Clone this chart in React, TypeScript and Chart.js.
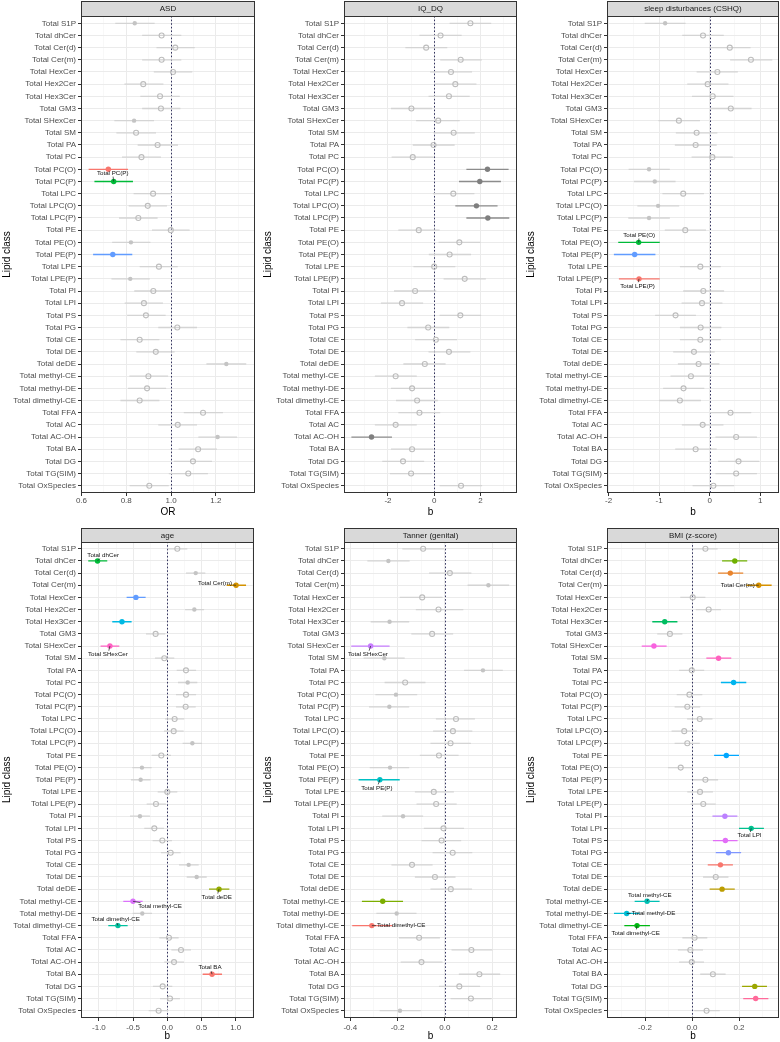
import React, { useEffect, useRef } from "react";
import { Chart, registerables } from "chart.js";

Chart.register(...registerables);

const FONT = "'Liberation Sans', Arial, Helvetica, sans-serif";

// ---------------- data ----------------
const lipidClasses: string[] = [
  "Total S1P", "Total dhCer", "Total Cer(d)", "Total Cer(m)", "Total HexCer", "Total Hex2Cer",
  "Total Hex3Cer", "Total GM3", "Total SHexCer", "Total SM", "Total PA", "Total PC", "Total PC(O)",
  "Total PC(P)", "Total LPC", "Total LPC(O)", "Total LPC(P)", "Total PE", "Total PE(O)", "Total PE(P)",
  "Total LPE", "Total LPE(P)", "Total PI", "Total LPI", "Total PS", "Total PG", "Total CE", "Total DE",
  "Total deDE", "Total methyl-CE", "Total methyl-DE", "Total dimethyl-CE", "Total FFA", "Total AC",
  "Total AC-OH", "Total BA", "Total DG", "Total TG(SIM)", "Total OxSpecies",
];

// ASD (OR)
const asdEst = [0.838, 0.958, 1.019, 0.958, 1.009, 0.876, 0.951, 0.955, 0.835, 0.844, 0.940, 0.868, 0.720, 0.744, 0.920, 0.896, 0.854, 0.999, 0.821, 0.740, 0.946, 0.818, 0.921, 0.879, 0.888, 1.028, 0.860, 0.932, 1.247, 0.899, 0.893, 0.860, 1.143, 1.030, 1.208, 1.121, 1.098, 1.077, 0.903];
const asdLo = [0.751, 0.871, 0.935, 0.871, 0.923, 0.792, 0.863, 0.871, 0.747, 0.756, 0.851, 0.781, 0.632, 0.658, 0.833, 0.811, 0.768, 0.915, 0.737, 0.652, 0.860, 0.734, 0.836, 0.793, 0.804, 0.943, 0.774, 0.845, 1.158, 0.814, 0.808, 0.774, 1.057, 0.943, 1.122, 1.034, 1.012, 0.990, 0.815];
const asdHi = [0.927, 1.046, 1.106, 1.046, 1.095, 0.966, 1.039, 1.042, 0.924, 0.933, 1.031, 0.955, 0.808, 0.830, 1.004, 0.982, 0.940, 1.083, 0.908, 0.827, 1.030, 0.905, 1.007, 0.964, 0.976, 1.116, 0.948, 1.016, 1.336, 0.987, 0.978, 0.948, 1.232, 1.116, 1.295, 1.205, 1.183, 1.165, 0.990];
const asdType = ["f", "h", "h", "h", "h", "h", "h", "h", "f", "h", "h", "h", "c", "c", "h", "h", "h", "h", "f", "c", "h", "f", "h", "h", "h", "h", "h", "h", "f", "h", "h", "h", "h", "h", "f", "h", "h", "h", "h"];
const asdSigOrder = ["Total PC(O)", "Total PC(P)", "Total PE(P)"];
const asdLabelled = ["Total PC(P)"];
const asdMajor = [0.6, 0.8, 1.0, 1.2];
const asdMajorText = ["0.6", "0.8", "1.0", "1.2"];
const asdMinor = [0.7, 0.9, 1.1, 1.3];

// IQ_DQ (b)
const iqEst = [1.565, 0.275, -0.348, 1.145, 0.725, 0.913, 0.638, -0.986, 0.174, 0.841, -0.029, -0.928, 2.304, 1.971, 0.826, 1.826, 2.319, -0.667, 1.087, 0.667, 0.0, 1.319, -0.826, -1.391, 1.130, -0.261, 0.072, 0.638, -0.406, -1.667, -0.957, -0.739, -0.638, -1.667, -2.710, -0.957, -1.348, -1.0, 1.159];
const iqLo = [0.667, -0.638, -1.246, 0.261, -0.174, 0.029, -0.246, -1.870, -0.783, -0.029, -0.928, -1.841, 1.391, 1.072, -0.058, 0.913, 1.391, -1.551, 0.188, -0.232, -0.899, 0.406, -1.739, -2.304, 0.232, -1.159, -0.826, -0.246, -1.333, -2.565, -1.870, -1.652, -1.551, -2.565, -3.580, -1.870, -2.246, -1.913, 0.232];
const iqHi = [2.464, 1.188, 0.565, 2.058, 1.638, 1.826, 1.536, -0.087, 1.101, 1.754, 0.884, -0.029, 3.217, 2.884, 1.739, 2.739, 3.246, 0.232, 2.0, 1.594, 0.913, 2.232, 0.087, -0.478, 2.029, 0.652, 0.986, 1.565, 0.493, -0.754, -0.058, 0.159, 0.261, -0.754, -1.826, -0.043, -0.435, -0.101, 2.072];
const iqType = ["h", "h", "h", "h", "h", "h", "h", "h", "h", "h", "h", "h", "d", "d", "h", "d", "d", "h", "h", "h", "h", "h", "h", "h", "h", "h", "h", "h", "h", "h", "h", "h", "h", "h", "d", "h", "h", "h", "h"];
const iqSigOrder: string[] = [];
const iqLabelled: string[] = [];
const iqMajor = [-2, 0, 2];
const iqMajorText = ["-2", "0", "2"];
const iqMinor = [-3, -1, 1, 3];

// sleep disturbances (CSHQ) (b)
const sleepEst = [-0.881, -0.132, 0.397, 0.815, 0.152, -0.040, 0.060, 0.417, -0.609, -0.258, -0.278, 0.053, -1.199, -1.086, -0.523, -1.020, -1.199, -0.483, -1.404, -1.483, -0.185, -1.397, -0.126, -0.152, -0.675, -0.179, -0.185, -0.311, -0.219, -0.371, -0.517, -0.589, 0.411, -0.139, 0.523, -0.278, 0.570, 0.523, 0.073];
const sleepLo = [-1.285, -0.543, -0.013, 0.404, -0.258, -0.444, -0.351, 0.020, -1.013, -0.669, -0.689, -0.358, -1.603, -1.497, -0.934, -1.430, -1.609, -0.887, -1.808, -1.894, -0.589, -1.795, -0.523, -0.556, -1.079, -0.589, -0.589, -0.722, -0.629, -0.775, -0.921, -1.0, 0.007, -0.550, 0.113, -0.682, 0.166, 0.113, -0.338];
const sleepHi = [-0.477, 0.278, 0.808, 1.238, 0.556, 0.371, 0.470, 0.828, -0.192, 0.152, 0.139, 0.457, -0.788, -0.675, -0.113, -0.603, -0.788, -0.073, -0.987, -1.073, 0.219, -0.987, 0.285, 0.252, -0.272, 0.232, 0.219, 0.099, 0.192, 0.033, -0.106, -0.172, 0.821, 0.272, 0.934, 0.139, 0.980, 0.934, 0.483];
const sleepType = ["f", "h", "h", "h", "h", "h", "h", "h", "h", "h", "h", "h", "f", "f", "h", "f", "f", "h", "c", "c", "h", "c", "h", "h", "h", "h", "h", "h", "h", "h", "h", "h", "h", "h", "h", "h", "h", "h", "h"];
const sleepSigOrder = ["Total LPE(P)", "Total PE(O)", "Total PE(P)"];
const sleepLabelled = ["Total PE(O)", "Total LPE(P)"];
const sleepMajor = [-2, -1, 0, 1];
const sleepMajorText = ["-2", "-1", "0", "1"];
const sleepMinor = [-1.5, -0.5, 0.5];

// age (b)
const ageEst = [0.146, -1.020, 0.415, 1.005, -0.459, 0.395, -0.663, -0.171, -0.839, -0.044, 0.273, 0.298, 0.273, 0.268, 0.107, 0.093, 0.366, -0.088, -0.371, -0.390, 0.0, -0.166, -0.400, -0.190, -0.073, 0.049, 0.312, 0.429, 0.756, -0.502, -0.366, -0.722, 0.024, 0.200, 0.098, 0.654, -0.068, 0.039, -0.127];
const ageLo = [0.005, -1.156, 0.273, 0.868, -0.595, 0.259, -0.805, -0.312, -0.976, -0.180, 0.137, 0.156, 0.127, 0.127, -0.034, -0.049, 0.224, -0.229, -0.512, -0.532, -0.141, -0.302, -0.546, -0.337, -0.215, -0.093, 0.171, 0.283, 0.610, -0.644, -0.507, -0.863, -0.117, 0.059, -0.044, 0.517, -0.210, -0.107, -0.273];
const ageHi = [0.293, -0.878, 0.556, 1.151, -0.317, 0.537, -0.522, -0.029, -0.702, 0.102, 0.420, 0.439, 0.420, 0.415, 0.249, 0.239, 0.507, 0.054, -0.229, -0.244, 0.146, -0.020, -0.254, -0.049, 0.068, 0.195, 0.459, 0.576, 0.907, -0.361, -0.224, -0.580, 0.166, 0.346, 0.244, 0.800, 0.073, 0.185, 0.015];
const ageType = ["h", "c", "f", "c", "c", "f", "c", "h", "c", "h", "h", "f", "h", "h", "h", "h", "f", "h", "f", "f", "h", "h", "f", "h", "h", "h", "f", "f", "c", "c", "f", "c", "h", "h", "h", "c", "h", "h", "h"];
const ageSigOrder = ["Total BA", "Total Cer(m)", "Total deDE", "Total dhCer", "Total dimethyl-CE", "Total Hex3Cer", "Total HexCer", "Total methyl-CE", "Total SHexCer"];
const ageLabelled = ["Total dhCer", "Total Cer(m)", "Total SHexCer", "Total deDE", "Total methyl-CE", "Total dimethyl-CE", "Total BA"];
const ageMajor = [-1.0, -0.5, 0.0, 0.5, 1.0];
const ageMajorText = ["-1.0", "-0.5", "0.0", "0.5", "1.0"];
const ageMinor = [-1.25, -0.75, -0.25, 0.25, 0.75, 1.25];

// Tanner (genital) (b)
const tannerEst = [-0.092, -0.239, 0.021, 0.184, -0.096, -0.027, -0.234, -0.054, -0.314, -0.256, 0.161, -0.168, -0.207, -0.235, 0.047, 0.034, 0.024, -0.025, -0.232, -0.275, -0.047, -0.037, -0.177, -0.006, -0.014, 0.033, -0.139, -0.042, 0.025, -0.263, -0.204, -0.309, -0.109, 0.112, -0.099, 0.146, 0.061, 0.110, -0.190];
const tannerLo = [-0.180, -0.328, -0.067, 0.096, -0.191, -0.123, -0.314, -0.142, -0.396, -0.344, 0.081, -0.255, -0.294, -0.321, -0.038, -0.050, -0.061, -0.106, -0.318, -0.365, -0.127, -0.120, -0.265, -0.089, -0.099, -0.052, -0.226, -0.127, -0.061, -0.351, -0.290, -0.392, -0.194, 0.028, -0.187, 0.059, -0.025, 0.024, -0.276];
const tannerHi = [-0.004, -0.149, 0.112, 0.272, -0.010, 0.078, -0.151, 0.035, -0.234, -0.170, 0.245, -0.082, -0.117, -0.151, 0.127, 0.116, 0.110, 0.058, -0.151, -0.191, 0.038, 0.050, -0.092, 0.081, 0.069, 0.116, -0.052, 0.045, 0.115, -0.177, -0.120, -0.222, -0.021, 0.201, -0.010, 0.234, 0.149, 0.198, -0.102];
const tannerType = ["h", "f", "h", "f", "h", "h", "f", "h", "c", "f", "f", "h", "f", "f", "h", "h", "h", "h", "f", "c", "h", "h", "f", "h", "h", "h", "h", "h", "h", "c", "f", "c", "h", "h", "h", "h", "h", "h", "f"];
const tannerSigOrder = ["Total dimethyl-CE", "Total methyl-CE", "Total PE(P)", "Total SHexCer"];
const tannerLabelled = ["Total SHexCer", "Total PE(P)", "Total dimethyl-CE"];
const tannerMajor = [-0.4, -0.2, 0.0, 0.2];
const tannerMajorText = ["-0.4", "-0.2", "0.0", "0.2"];
const tannerMinor = [-0.3, -0.1, 0.1, 0.3];

// BMI (z-score) (b)
const bmiEst = [0.057, 0.182, 0.163, 0.284, 0.003, 0.071, -0.116, -0.094, -0.162, 0.113, -0.001, 0.177, -0.011, -0.020, 0.033, -0.033, -0.020, 0.146, -0.048, 0.057, 0.034, 0.048, 0.140, 0.252, 0.142, 0.155, 0.121, 0.101, 0.128, -0.191, -0.278, -0.234, 0.011, -0.007, -0.001, 0.089, 0.267, 0.271, 0.062];
const bmiLo = [0.004, 0.128, 0.111, 0.231, -0.050, 0.016, -0.169, -0.148, -0.214, 0.061, -0.055, 0.123, -0.065, -0.074, -0.021, -0.087, -0.074, 0.094, -0.102, 0.004, -0.020, -0.006, 0.087, 0.200, 0.089, 0.101, 0.067, 0.047, 0.075, -0.244, -0.332, -0.288, -0.041, -0.060, -0.055, 0.035, 0.213, 0.218, 0.009];
const bmiHi = [0.109, 0.235, 0.218, 0.339, 0.057, 0.123, -0.062, -0.041, -0.108, 0.167, 0.052, 0.231, 0.044, 0.035, 0.087, 0.021, 0.033, 0.200, 0.004, 0.111, 0.089, 0.101, 0.193, 0.306, 0.194, 0.209, 0.174, 0.155, 0.182, -0.138, -0.223, -0.179, 0.065, 0.047, 0.051, 0.143, 0.319, 0.325, 0.118];
const bmiType = ["h", "c", "c", "c", "h", "h", "c", "h", "c", "c", "h", "c", "h", "h", "h", "h", "h", "c", "h", "h", "h", "h", "c", "c", "c", "c", "c", "h", "c", "c", "c", "c", "h", "h", "h", "h", "c", "c", "h"];
const bmiSigOrder = ["Total CE", "Total Cer(d)", "Total Cer(m)", "Total deDE", "Total DG", "Total dhCer", "Total dimethyl-CE", "Total Hex3Cer", "Total LPI", "Total methyl-CE", "Total methyl-DE", "Total PC", "Total PE", "Total PG", "Total PI", "Total PS", "Total SHexCer", "Total SM", "Total TG(SIM)"];
const bmiLabelled = ["Total Cer(m)", "Total LPI", "Total methyl-CE", "Total methyl-DE", "Total dimethyl-CE"];
const bmiMajor = [-0.2, 0.0, 0.2];
const bmiMajorText = ["-0.2", "0.0", "0.2"];
const bmiMinor = [-0.3, -0.1, 0.1, 0.3];

// ---------------- styles / layout ----------------
const HOLLOW = "#BDBDBD";
const FILLED = "#C4C4C4";
const DARK = "#7F7F7F";
const BAR_GREY = "#D4D4D4";
const BAR_DARK = "#8C8C8C";

function hcl(h: number, c: number, l: number): string {
  const hr = (h * Math.PI) / 180;
  const U = c * Math.cos(hr);
  const V = c * Math.sin(hr);
  const Xn = 95.047, Yn = 100, Zn = 108.883;
  const Y = l > 8 ? Yn * Math.pow((l + 16) / 116, 3) : (Yn * l) / 903.3;
  const den = Xn + 15 * Yn + 3 * Zn;
  const un = (4 * Xn) / den;
  const vn = (9 * Yn) / den;
  const u = U / (13 * l) + un;
  const v = V / (13 * l) + vn;
  const X = (9 * Y * u) / (4 * v);
  const Z = (Y * (12 - 3 * u - 20 * v)) / (4 * v);
  const x = X / 100, y = Y / 100, z = Z / 100;
  const lin = [
    3.2404542 * x - 1.5371385 * y - 0.4985314 * z,
    -0.969266 * x + 1.8760108 * y + 0.041556 * z,
    0.0556434 * x - 0.2040259 * y + 1.0572252 * z,
  ];
  const hex = lin
    .map((c0) => {
      let g = c0 <= 0.0031308 ? 12.92 * c0 : 1.055 * Math.pow(c0, 1 / 2.4) - 0.055;
      g = Math.max(0, Math.min(1, g));
      return Math.round(g * 255).toString(16).padStart(2, "0");
    })
    .join("");
  return "#" + hex;
}

function huePalette(n: number): string[] {
  const out: string[] = [];
  for (let k = 0; k < n; k++) out.push(hcl(15 + (360 / n) * k, 100, 65));
  return out;
}

interface LabelStyle { dx: number; dy: number }

interface PanelDef {
  title: string;
  xTitle: string;
  est: number[];
  lo: number[];
  hi: number[];
  types: string[];
  sigOrder: string[];
  labelled: string[];
  labelStyle: LabelStyle[];
  ref: number;
  xMin: number;
  xMax: number;
  major: number[];
  majorText: string[];
  minor: number[];
  box: { left: number; top: number; w: number; h: number };
  area: { left: number; right: number; top: number; bottom: number };
  stripH: number;
  tickPad: number;
  titlePadB: number;
}

const TOP_BOX_H = 520;
const BOT_BOX_H = 522;

const panels: PanelDef[] = [
  {
    title: "ASD", xTitle: "OR", est: asdEst, lo: asdLo, hi: asdHi, types: asdType,
    sigOrder: asdSigOrder, labelled: asdLabelled, labelStyle: [{ dx: -1, dy: -8.5 }],
    ref: 1, xMin: 0.598, xMax: 1.375, major: asdMajor, majorText: asdMajorText, minor: asdMinor,
    box: { left: 0, top: 0, w: 260, h: TOP_BOX_H },
    area: { left: 81, right: 255, top: 16, bottom: 493 }, stripH: 15, tickPad: 0, titlePadB: 2,
  },
  {
    title: "IQ_DQ", xTitle: "b", est: iqEst, lo: iqLo, hi: iqHi, types: iqType,
    sigOrder: iqSigOrder, labelled: iqLabelled, labelStyle: [],
    ref: 0, xMin: -3.9, xMax: 3.58, major: iqMajor, majorText: iqMajorText, minor: iqMinor,
    box: { left: 261, top: 0, w: 260, h: TOP_BOX_H },
    area: { left: 344, right: 517, top: 16, bottom: 493 }, stripH: 15, tickPad: 0, titlePadB: 2,
  },
  {
    title: "sleep disturbances (CSHQ)", xTitle: "b", est: sleepEst, lo: sleepLo, hi: sleepHi, types: sleepType,
    sigOrder: sleepSigOrder, labelled: sleepLabelled, labelStyle: [{ dx: 0.5, dy: -7.5 }, { dx: -1.5, dy: 7 }],
    ref: 0, xMin: -2.03, xMax: 1.37, major: sleepMajor, majorText: sleepMajorText, minor: sleepMinor,
    box: { left: 524, top: 0, w: 256, h: TOP_BOX_H },
    area: { left: 607, right: 779, top: 16, bottom: 493 }, stripH: 15, tickPad: 0, titlePadB: 2,
  },
  {
    title: "age", xTitle: "b", est: ageEst, lo: ageLo, hi: ageHi, types: ageType,
    sigOrder: ageSigOrder, labelled: ageLabelled,
    labelStyle: [
      { dx: 5.6, dy: -6 }, { dx: -21, dy: -1.5 }, { dx: -2, dy: 8.3 }, { dx: -2.3, dy: 8 },
      { dx: 27, dy: 5 }, { dx: -2.3, dy: -6.2 }, { dx: -2, dy: -6.6 },
    ],
    ref: 0, xMin: -1.262, xMax: 1.26, major: ageMajor, majorText: ageMajorText, minor: ageMinor,
    box: { left: 0, top: 520, w: 260, h: BOT_BOX_H },
    area: { left: 81, right: 253.5, top: 541.5, bottom: 1018 }, stripH: 14, tickPad: 2, titlePadB: 0,
  },
  {
    title: "Tanner (genital)", xTitle: "b", est: tannerEst, lo: tannerLo, hi: tannerHi, types: tannerType,
    sigOrder: tannerSigOrder, labelled: tannerLabelled,
    labelStyle: [{ dx: -2.7, dy: 8.3 }, { dx: -3, dy: 8.3 }, { dx: 29.4, dy: 0 }],
    ref: 0, xMin: -0.4267, xMax: 0.305, major: tannerMajor, majorText: tannerMajorText, minor: tannerMinor,
    box: { left: 261, top: 520, w: 260, h: BOT_BOX_H },
    area: { left: 344, right: 517, top: 541.5, bottom: 1018 }, stripH: 14, tickPad: 2, titlePadB: 0,
  },
  {
    title: "BMI (z-score)", xTitle: "b", est: bmiEst, lo: bmiLo, hi: bmiHi, types: bmiType,
    sigOrder: bmiSigOrder, labelled: bmiLabelled,
    labelStyle: [{ dx: -21, dy: 0 }, { dx: -1.7, dy: 7.3 }, { dx: 2.7, dy: -5.8 }, { dx: 26.8, dy: 0 }, { dx: -1.3, dy: 7.4 }],
    ref: 0, xMin: -0.3617, xMax: 0.3702, major: bmiMajor, majorText: bmiMajorText, minor: bmiMinor,
    box: { left: 524, top: 520, w: 256, h: BOT_BOX_H },
    area: { left: 607, right: 779, top: 541.5, bottom: 1018 }, stripH: 14, tickPad: 2, titlePadB: 0,
  },
];

function ForestPanel({ p }: { p: PanelDef }) {
  const canvasRef = useRef<HTMLCanvasElement | null>(null);

  useEffect(() => {
    const canvas = canvasRef.current;
    if (!canvas) return;
    const palette = huePalette(p.sigOrder.length);
    const pointColor = lipidClasses.map((name, i) => {
      const t = p.types[i];
      if (t === "c") return palette[p.sigOrder.indexOf(name)];
      if (t === "d") return DARK;
      if (t === "f") return FILLED;
      return HOLLOW;
    });
    const barColor = lipidClasses.map((_, i) => {
      const t = p.types[i];
      if (t === "c") return pointColor[i];
      if (t === "d") return BAR_DARK;
      return BAR_GREY;
    });
    const isMajor = (v: number) => p.major.some((m) => Math.abs(m - v) < 1e-9);
    const allTicks = [...p.major, ...p.minor].sort((a, b) => a - b);

    const yAxisW = p.area.left - p.box.left;
    const xAxisH = p.box.top + p.box.h - p.area.bottom;
    const padTop = p.area.top - p.box.top;
    const padRight = p.box.left + p.box.w - p.area.right;

    const forest = {
      id: "forest",
      beforeDatasetsDraw(chart: any) {
        const { ctx, chartArea: a, scales } = chart;
        const xs = scales.x;
        const ys = scales.y;
        ctx.save();
        ctx.beginPath();
        ctx.rect(a.left, a.top, a.right - a.left, a.bottom - a.top);
        ctx.clip();
        // reference line
        const rx = Math.round(xs.getPixelForValue(p.ref)) + 0.5;
        ctx.strokeStyle = "#33335F";
        ctx.lineWidth = 1;
        ctx.setLineDash([1.6, 2]);
        ctx.beginPath();
        ctx.moveTo(rx, a.top);
        ctx.lineTo(rx, a.bottom);
        ctx.stroke();
        ctx.setLineDash([]);
        // error bars
        ctx.lineWidth = 1.3;
        ctx.lineCap = "butt";
        for (let i = 0; i < lipidClasses.length; i++) {
          const y = ys.getPixelForValue(i);
          ctx.strokeStyle = barColor[i];
          ctx.beginPath();
          ctx.moveTo(xs.getPixelForValue(p.lo[i]), y);
          ctx.lineTo(xs.getPixelForValue(p.hi[i]), y);
          ctx.stroke();
        }
        ctx.restore();
      },
      afterDatasetsDraw(chart: any) {
        const { ctx, scales } = chart;
        const xs = scales.x;
        const ys = scales.y;
        ctx.save();
        ctx.font = `6.2px ${FONT}`;
        ctx.textAlign = "center";
        ctx.textBaseline = "middle";
        p.labelled.forEach((name, k) => {
          const i = lipidClasses.indexOf(name);
          const st = p.labelStyle[k];
          const px = xs.getPixelForValue(p.est[i]);
          const py = ys.getPixelForValue(i);
          const cx = px + st.dx;
          const cy = py + st.dy;
          const w = ctx.measureText(name).width;
          const hw = w / 2 + 1;
          const hh = 3.6;
          const ddx = px - cx;
          const ddy = py - cy;
          const tx = Math.abs(ddx) > 1e-6 ? hw / Math.abs(ddx) : Infinity;
          const ty = Math.abs(ddy) > 1e-6 ? hh / Math.abs(ddy) : Infinity;
          const t = Math.min(tx, ty);
          if (t < 1) {
            const ex = cx + ddx * t;
            const ey = cy + ddy * t;
            ctx.strokeStyle = "#222222";
            ctx.lineWidth = 0.7;
            ctx.beginPath();
            ctx.moveTo(ex, ey);
            ctx.lineTo(px, py);
            ctx.stroke();
          }
          ctx.fillStyle = "#111111";
          ctx.fillText(name, cx, cy);
        });
        ctx.restore();
      },
      afterDraw(chart: any) {
        const { ctx, chartArea: a } = chart;
        const L = Math.round(a.left);
        const R = Math.round(a.right);
        const T = Math.round(a.top);
        const B = Math.round(a.bottom);
        ctx.save();
        // strip
        ctx.fillStyle = "#D9D9D9";
        ctx.fillRect(L, T - p.stripH, R - L, p.stripH);
        ctx.strokeStyle = "#333333";
        ctx.lineWidth = 1;
        ctx.strokeRect(L + 0.5, T - p.stripH + 0.5, R - L - 1, p.stripH);
        ctx.fillStyle = "#1A1A1A";
        ctx.font = `8px ${FONT}`;
        ctx.textAlign = "center";
        ctx.textBaseline = "middle";
        ctx.fillText(p.title, (L + R) / 2, T - p.stripH / 2 + 0.5);
        // panel border
        ctx.strokeRect(L + 0.5, T + 0.5, R - L - 1, B - T - 1);
        ctx.restore();
      },
    };

    const chart = new Chart(canvas, {
      type: "scatter",
      data: {
        datasets: [
          {
            data: p.est.map((v, i) => ({ x: v, y: i })),
            pointStyle: "circle",
            pointRadius: p.types.map((t) => (t === "h" ? 2.5 : t === "f" ? 2.2 : 2.7)),
            pointBorderWidth: p.types.map((t) => (t === "h" ? 1.1 : 0)),
            pointBackgroundColor: p.types.map((t, i) => (t === "h" ? "rgba(0,0,0,0)" : pointColor[i])),
            pointBorderColor: pointColor,
            backgroundColor: pointColor,
            borderColor: pointColor,
            showLine: false,
          } as any,
        ],
      },
      plugins: [forest],
      options: {
        animation: false,
        responsive: false,
        devicePixelRatio: 1,
        events: [],
        layout: { autoPadding: false, padding: { top: padTop, right: padRight, left: 0, bottom: 0 } } as any,
        plugins: {
          legend: { display: false },
          tooltip: { enabled: false },
          colors: { enabled: false },
        } as any,
        scales: {
          x: {
            type: "linear",
            min: p.xMin,
            max: p.xMax,
            afterBuildTicks: (axis: any) => {
              axis.ticks = allTicks.map((v) => ({ value: v }));
            },
            afterFit: (axis: any) => {
              axis.height = xAxisH;
            },
            ticks: {
              autoSkip: false,
              maxRotation: 0,
              minRotation: 0,
              padding: p.tickPad,
              color: "#4D4D4D",
              font: { family: FONT, size: 8 },
              callback: (v: any) => {
                const k = p.major.findIndex((m) => Math.abs(m - Number(v)) < 1e-9);
                return k >= 0 ? p.majorText[k] : "";
              },
            },
            grid: {
              color: (c: any) => (c.tick && isMajor(c.tick.value) ? "#EBEBEB" : "#F3F3F3"),
              lineWidth: (c: any) => (c.tick && isMajor(c.tick.value) ? 1 : 0.6),
              drawTicks: true,
              tickLength: 3,
              tickColor: (c: any) => (c.tick && isMajor(c.tick.value) ? "#333333" : "rgba(0,0,0,0)"),
              tickWidth: 1,
            },
            border: { display: false },
            title: {
              display: true,
              text: p.xTitle,
              color: "#000000",
              font: { family: FONT, size: 10 },
              padding: { top: 0, bottom: p.titlePadB },
            },
          },
          y: {
            type: "linear",
            reverse: true,
            min: -0.6,
            max: lipidClasses.length - 1 + 0.6,
            afterBuildTicks: (axis: any) => {
              axis.ticks = lipidClasses.map((_, i) => ({ value: i }));
            },
            afterFit: (axis: any) => {
              axis.width = yAxisW;
            },
            ticks: {
              autoSkip: false,
              padding: 2,
              color: "#4D4D4D",
              font: { family: FONT, size: 8 },
              callback: (v: any) => lipidClasses[Math.round(Number(v))] ?? "",
            },
            grid: {
              color: "#EBEBEB",
              lineWidth: 1,
              drawTicks: true,
              tickLength: 3,
              tickColor: "#333333",
              tickWidth: 1,
            },
            border: { display: false },
            title: {
              display: true,
              text: "Lipid class",
              color: "#000000",
              font: { family: FONT, size: 10 },
              padding: { top: 1, bottom: 0 },
            },
          },
        },
      } as any,
    });
    return () => chart.destroy();
  }, [p]);

  return (
    <canvas
      ref={canvasRef}
      width={p.box.w}
      height={p.box.h}
      style={{ position: "absolute", left: p.box.left, top: p.box.top, width: p.box.w, height: p.box.h }}
    />
  );
}

export default function App() {
  return (
    <div style={{ position: "absolute", left: 0, top: 0, width: 780, height: 1042, background: "#FFFFFF" }}>
      {panels.map((p) => (
        <ForestPanel key={p.title} p={p} />
      ))}
    </div>
  );
}
